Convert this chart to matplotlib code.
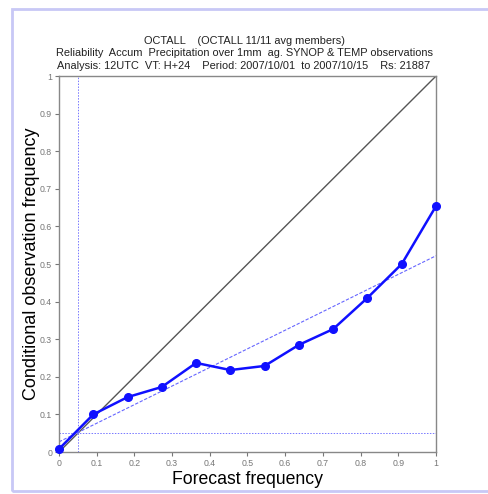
import numpy as np
import matplotlib.pyplot as plt
from matplotlib.patches import Rectangle

# forecast probability classes (11 members -> k/11)
forecast_freq = [0, 1/11, 2/11, 3/11, 4/11, 5/11, 6/11, 7/11, 8/11, 9/11, 10/11, 1]
obs_freq = [0.008, 0.100, 0.146, 0.173, 0.237, 0.218, 0.229, 0.285, 0.327, 0.410, 0.500, 0.654]
fit_x = [0, 1]
fit_y = [0.027, 0.522]
climate = 0.05
ticks = [0, 0.1, 0.2, 0.3, 0.4, 0.5, 0.6, 0.7, 0.8, 0.9, 1]
tick_labels = ["0", "0.1", "0.2", "0.3", "0.4", "0.5", "0.6", "0.7", "0.8", "0.9", "1"]

title_lines = [
    "OCTALL    (OCTALL 11/11 avg members)",
    "Reliability  Accum  Precipitation over 1mm  ag. SYNOP & TEMP observations",
    "Analysis: 12UTC  VT: H+24    Period: 2007/10/01  to 2007/10/15    Rs: 21887",
]

plt.rcParams['font.family'] = ['Liberation Sans', 'DejaVu Sans']

fig = plt.figure(figsize=(4.88, 4.94), dpi=100)
fig.patches.append(Rectangle((0.0246, 0.007), 1.0, 0.974, transform=fig.transFigure,
                             fill=False, edgecolor="#c8c8f6", lw=2))

ax = fig.add_axes([0.1209, 0.085, 0.7725, 0.761])

ax.plot([0, 1], [0, 1], color="#555555", lw=1)
ax.axhline(climate, color="#7777ff", lw=0.7, ls=(0, (1.5, 1.5)))
ax.axvline(climate, color="#7777ff", lw=0.7, ls=(0, (1.5, 1.5)))
ax.plot(fit_x, fit_y, color="#6666ff", lw=0.8, ls=(0, (3, 1.5)))
ax.plot(forecast_freq, obs_freq, color="#1010ff", lw=1.8, marker="o", ms=5.5, clip_on=False, zorder=5)

ax.set_xlim(0, 1)
ax.set_ylim(0, 1)
ax.set_xticks(ticks)
ax.set_xticklabels(tick_labels)
ax.set_yticks(ticks)
ax.set_yticklabels(tick_labels)
ax.tick_params(direction="out", length=3, width=0.8, colors="#777777", labelsize=6.3, pad=2)
for s in ax.spines.values():
    s.set_color("#888888")
    s.set_linewidth(1)

ax.set_xlabel("Forecast frequency", fontsize=12.7, labelpad=2)
ax.set_ylabel("Conditional observation frequency", fontsize=13, labelpad=0)

for i, t in enumerate(title_lines):
    fig.text(0.5, 1 - (41 + 12.3 * i) / 494, t, ha="center", va="center", fontsize=7.9, color="#222222")

fig.savefig("out.png", dpi=100)
